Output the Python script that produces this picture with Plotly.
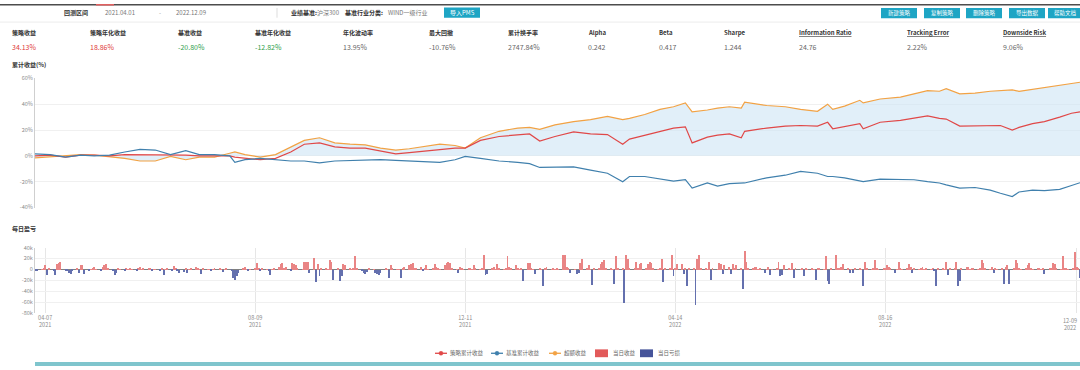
import plotly.graph_objects as go
import pandas as pd

W, H = 1080, 370

# ---------------- data ----------------
line_dates = [
    "2021-04-01", "2021-04-10", "2021-04-19", "2021-04-28", "2021-05-06", "2021-05-15",
    "2021-05-24", "2021-06-02", "2021-06-11", "2021-06-20", "2021-06-29", "2021-07-07",
    "2021-07-16", "2021-07-25", "2021-07-28", "2021-08-03", "2021-08-12", "2021-08-21",
    "2021-08-30", "2021-09-07", "2021-09-16", "2021-09-25", "2021-10-04", "2021-10-13",
    "2021-10-22", "2021-10-31", "2021-11-08", "2021-11-17", "2021-11-26", "2021-12-05",
    "2021-12-11", "2021-12-20", "2021-12-31", "2022-01-11", "2022-01-18", "2022-01-24",
    "2022-02-02", "2022-02-13", "2022-02-23", "2022-03-05", "2022-03-14", "2022-03-18",
    "2022-03-27", "2022-04-05", "2022-04-13", "2022-04-20", "2022-04-24", "2022-05-03",
    "2022-05-09", "2022-05-16", "2022-05-23", "2022-05-25", "2022-06-07", "2022-06-18",
    "2022-06-27", "2022-07-07", "2022-07-13", "2022-07-16", "2022-07-23", "2022-08-01",
    "2022-08-03", "2022-08-13", "2022-08-25", "2022-09-02", "2022-09-10", "2022-09-17",
    "2022-09-21", "2022-09-29", "2022-10-08", "2022-10-17", "2022-10-23", "2022-10-30",
    "2022-11-03", "2022-11-11", "2022-11-18", "2022-11-27", "2022-12-04", "2022-12-09",
]
strategy_cum = [
    0, 0.5, -1, 0.5, 0.5, 0, 1, 1, 0.5, 0.5, 0.5, 0, 0, 0, -1, -2, -3, -2,
    3, 9, 10, 7, 6, 6, 4, 1.5, 2.5, 3.5, 5, 6, 6, 12, 15, 16.5, 17, 11.5,
    15, 18.5, 17, 16.5, 9, 13, 16, 19, 21.5, 22.5, 10, 14.5, 16, 17, 14, 19,
    21.5, 23, 23.5, 23, 26, 21, 22.5, 25, 21, 26, 27.5, 29.5, 31, 29, 28.5, 23,
    23, 23.5, 23.5, 20, 22, 25, 26.5, 30, 33, 34.13,
]
benchmark_cum = [
    1.5, 1, -1, 0.5, 0, 0.5, 3, 5, 4.5, 1, 4, 1, 1, 0, -5, -3, -2, -3,
    -4, -4, -5.5, -4, -3.5, -3, -3, -3.5, -4, -4.5, -5, -3, -0.5, -2, -4, -5, -6, -9,
    -9, -8.5, -11, -13.5, -20, -16, -16, -18, -19.5, -18.5, -25, -21, -23.5, -21.5, -21, -21,
    -17, -15, -12, -13.5, -16, -16, -17, -19.5, -20, -18, -18, -18.5, -20, -21, -22.5, -25,
    -24.5, -26.5, -29, -31.5, -28, -26.5, -27, -26, -23, -20.8,
]
excess_cum = [
    -1.5, -0.5, 0, 1, 0.5, -0.5, -2, -4, -4, -0.5, -3, -1, -1, 2, 3, 1, -1, 1,
    7, 12, 14, 10, 9, 8.5, 6, 4.5, 5.5, 7, 9, 8, 6, 14, 19, 21.5, 22, 20.5,
    24, 26.5, 28, 30.5, 28, 29, 32, 36, 38, 41, 34, 35.5, 37, 38, 37, 41.5,
    39, 38, 36, 34.5, 40, 36, 38.5, 43, 41, 44, 45.5, 48, 50.5, 50, 52, 48,
    48.5, 50, 50.5, 51, 50, 51.5, 53, 54.5, 56, 57,
]

# daily P&L in thousands, one value per business day from 2021-04-01 to 2022-12-09
daily_pnl_k = [
    -1, -3, 1, 2, 9, -10, 2, -1, -10, 10, 12, 15, -2, -3, -5, -8, -3, 2, -5, 8,
    8, -8, -2, 1, 2, 5, 1, -1, 5, 8, 10, 2, -3, -10, -5, 3, 1, -2, 3, 1,
    2, 1, -1, 2, 5, 1, 2, 2, 2, -1, 1, 1, -1, 2, -10, 1, 2, -1, 7, 2,
    -2, -5, -4, 2, -6, 1, 2, 5, 2, 1, -8, 2, 1, 1, -2, 1, 2, 3, 1, -4,
    1, 2, -3, -15, -18, -12, -5, 2, 5, 1, -2, 1, 2, 12, 3, -1, 3, 1, -2, -10,
    1, 2, 5, 10, 12, 3, 5, -2, 12, 10, 8, 2, 1, 15, 15, 15, -5, 22, -22, 10,
    -12, 2, 3, 1, 18, 15, -18, 2, -20, -12, 10, 8, 2, 1, 2, 25, 2, -3, -5, -8,
    -4, 3, 1, -5, -8, -10, -5, 2, 1, -15, 8, 2, 1, 1, -15, 3, 5, 8, 10, 12,
    3, 2, 5, -3, 2, 8, 1, 2, 10, 5, 2, 1, 8, 12, 15, 12, 2, 1, -5, 5,
    2, 1, 2, 3, 1, 8, 2, 1, 3, 28, -10, -8, 2, 5, 1, 10, 2, 1, 3, 25,
    5, 2, 8, 3, 1, 2, -20, 12, 12, 2, 1, -8, 2, 1, -30, 2, 5, 1, 2, 1,
    2, 1, 28, 28, 5, 2, -5, 1, -8, -5, 12, 20, 2, 8, 1, -28, 2, 3, 10, 15,
    18, 2, 3, 1, -25, 25, 2, 3, -60, 28, 20, 3, 2, 15, 2, 10, 12, 3, 10, 15,
    12, 2, 1, 3, 20, -22, 2, 3, 28, -12, 2, 10, 10, -8, 2, -30, 2, 3, -65, 20,
    28, 3, 2, 1, 15, -18, 2, 1, 12, 10, -8, 8, 5, -8, 10, 2, 8, 3, -35, 35,
    15, 2, 3, 5, 5, 1, 2, -5, 1, 5, -10, 1, 2, 15, -12, -10, 8, 2, 1, 12,
    -15, 2, 1, 2, -12, 3, 1, 2, 1, -18, 2, 3, 1, 25, -20, -25, 2, 28, 3, 2,
    5, 10, 2, -5, 1, -5, 2, 3, 1, -30, 15, 2, 1, 3, 18, 2, 1, 2, 3, 8,
    5, 2, -5, 1, 15, 2, 1, 3, 10, 5, -5, 2, 1, 3, 5, 1, 2, 1, 3, -2,
    -30, 2, 3, 1, 15, -10, 2, 3, 15, -30, -20, 2, 5, 5, 1, 2, 3, 1, 2, 18,
    12, 2, 1, 5, -5, 2, 1, 3, -25, 5, 8, -25, 2, 18, 12, 2, 1, 3, 8, 12,
    2, 1, 2, 3, 1, 2, -8, 2, 3, 12, 10, 2, 1, 25, 2, 3, 1, 2, 32, 5,
    2, -15,
]

pct_ticks = [60, 40, 20, 0, -20, -40]
pct_labels = ["60%", "40%", "20%", "0%", "-20%", "-40%"]
pnl_ticks = [40, 20, 0, -20, -40, -60, -80]
pnl_labels = ["40k", "20k", "0", "-20k", "-40k", "-60k", "-80k"]
date_ticks = ["2021-04-07", "2021-08-09", "2021-12-11", "2022-04-14", "2022-08-16", "2022-12-07"]
date_labels = ["04-07<br>2021", "08-09<br>2021", "12-11<br>2021", "04-14<br>2022", "08-16<br>2022", ""]
end_date_label = "12-09<br>2022"

metric_names = ["策略收益", "策略年化收益", "基准收益", "基准年化收益", "年化波动率", "最大回撤", "累计换手率",
                "Alpha", "Beta", "Sharpe", "Information Ratio", "Tracking Error", "Downside Risk"]
metric_values = ["34.13%", "18.86%", "-20.80%", "-12.82%", "13.95%", "-10.76%", "2747.84%",
                 "0.242", "0.417", "1.244", "24.76", "2.22%", "9.06%"]
top_buttons = ["新建策略", "复制策略", "删除策略", "导出数据", "帮助文档"]
legend_names = ["策略累计收益", "基准累计收益", "超额收益", "当日收益", "当日亏损"]

# ---------------- styling ----------------
FONT = "Noto Sans CJK SC, Roboto, sans-serif"
RED = "#e04848"
BLUE = "#4080ad"
ORANGE = "#f2a244"
BAR_RED = "#e25a5a"
BAR_BLUE = "#46549a"
TEAL = "#1ea5c4"


def px(x):
    return x / W


def py(y):
    return 1 - y / H


fig = go.Figure()

# top chart
fig.add_trace(go.Scatter(x=line_dates, y=excess_cum, name=legend_names[2], mode="lines",
                         line=dict(color=ORANGE, width=1.2), fill="tozeroy",
                         fillcolor="rgba(205,228,245,0.6)", xaxis="x", yaxis="y", showlegend=False))
fig.add_trace(go.Scatter(x=line_dates, y=strategy_cum, name=legend_names[0], mode="lines",
                         line=dict(color=RED, width=1.2), xaxis="x", yaxis="y", showlegend=False))
fig.add_trace(go.Scatter(x=line_dates, y=benchmark_cum, name=legend_names[1], mode="lines",
                         line=dict(color=BLUE, width=1.2), xaxis="x", yaxis="y", showlegend=False))

# bottom chart
bar_dates = pd.bdate_range("2021-04-01", "2022-12-09")
n = min(len(bar_dates), len(daily_pnl_k))
bar_dates = bar_dates[:n]
vals = daily_pnl_k[:n]
gain = [v if v > 0 else None for v in vals]
loss = [v if v < 0 else None for v in vals]
DAY_MS = 86400000
fig.add_trace(go.Bar(x=bar_dates, y=gain, name=legend_names[3],
                     marker=dict(color="#e98585", line_width=0),
                     width=DAY_MS * 0.55, xaxis="x2", yaxis="y2", showlegend=False))
fig.add_trace(go.Bar(x=bar_dates, y=loss, name=legend_names[4],
                     marker=dict(color="#6470ae", line_width=0),
                     width=DAY_MS * 0.55, xaxis="x2", yaxis="y2", showlegend=False))

xdom = [px(35), 1.0]
xrange = ["2021-04-01", "2022-12-09"]
tickfont = dict(family=FONT, size=5.5, color="#8a8a8a")

fig.update_layout(
    width=W, height=H, margin=dict(l=0, r=0, t=0, b=0),
    paper_bgcolor="white", plot_bgcolor="white",
    barmode="overlay", bargap=0, showlegend=False,
    font=dict(family=FONT),
    xaxis=dict(domain=xdom, range=xrange, type="date", anchor="y", showticklabels=False,
               showgrid=False, zeroline=False, showline=False, ticks=""),
    yaxis=dict(domain=[py(208), py(76)], range=[-40, 60], anchor="x", tickvals=pct_ticks,
               ticktext=pct_labels, tickfont=tickfont, showgrid=True, gridcolor="#f0f0f0",
               gridwidth=1, zeroline=False, showline=True, linecolor="#cfcfcf", linewidth=1, ticks=""),
    xaxis2=dict(domain=xdom, range=xrange, type="date", anchor="y2", tickvals=date_ticks,
                ticktext=date_labels, tickfont=tickfont, showgrid=True, gridcolor="#e6e6e6",
                zeroline=False, showline=False, ticks=""),
    yaxis2=dict(domain=[py(316), py(249)], range=[-80, 40], anchor="x2", tickvals=pnl_ticks,
                ticktext=pnl_labels, tickfont=tickfont, showgrid=True, gridcolor="#f0f0f0",
                zeroline=True, zerolinecolor="#808080", zerolinewidth=1,
                showline=True, linecolor="#cfcfcf", linewidth=1, ticks=""),
)

shapes = []
annotations = []


def text(x, y, s, size=6, color="#333", anchor="left", bold=False):
    annotations.append(dict(x=px(x), y=py(y), xref="paper", yref="paper", text=(f"<b>{s}</b>" if bold else s),
                            showarrow=False, xanchor=anchor, yanchor="middle",
                            font=dict(family=FONT, size=size, color=color)))


def rect(x0, y0, x1, y1, color, line=None):
    shapes.append(dict(type="rect", xref="paper", yref="paper", x0=px(x0), x1=px(x1), y0=py(y1), y1=py(y0),
                       fillcolor=color, line=dict(width=0) if line is None else line, layer="above"))


def hline(x0, x1, y, color, width=1):
    shapes.append(dict(type="line", xref="paper", yref="paper", x0=px(x0), x1=px(x1), y0=py(y), y1=py(y),
                       line=dict(color=color, width=width)))


# header bars
rect(0, 0, 1080, 1.6, "#4d4d4d")
rect(96, 0, 114, 1.6, "#e06060")
hline(0, 1080, 18.5, "#ececec", 1)
shapes.append(dict(type="line", xref="paper", yref="paper", x0=px(277), x1=px(277), y0=py(4), y1=py(14),
                   line=dict(color="#dddddd", width=1)))

text(62, 9, "回测区间", 6, "#333", bold=True)
text(103, 9, "2021.04.01", 6, "#777")
text(157, 9, "-", 6, "#999")
text(174, 9, "2022.12.09", 6, "#777")
text(289, 9, "业绩基准:", 6, "#333", bold=True)
text(315, 9, "沪深300", 6, "#777")
text(343, 9, "基准行业分类:", 6, "#333", bold=True)
text(386, 9, "WIND一级行业", 6, "#777")
rect(444, 3.5, 480, 14, TEAL)
text(462, 9, "导入PMS", 6, "white", anchor="center")

btn_x = [881, 924, 966, 1009, 1048]
for i, (bx, name) in enumerate(zip(btn_x, top_buttons)):
    rect(bx, 4, bx + 36, 14.5, TEAL)
    if i < 4:
        text(bx + 18, 9.3, name, 5.5, "white", anchor="center")
    else:
        text(bx + 4, 9.3, name, 5.5, "white", anchor="left")

metric_x = [10, 88, 176, 253, 341, 427, 506, 586, 657, 722, 797, 905, 1001]
for i, (mx, name, val) in enumerate(zip(metric_x, metric_names, metric_values)):
    label = f"<u>{name}</u>" if i >= 10 else name
    text(mx, 29.5, label, 6, "#333", bold=True)
    if i < 2:
        c = "#e03b3b"
    elif i < 4:
        c = "#2e9e4a"
    else:
        c = "#666666"
    text(mx, 43.5, val, 7, c)

# chart titles
text(10, 62, "累计收益(%)", 6, "#333", bold=True)
text(10, 229, "每日盈亏", 6, "#333", bold=True)

# end-of-axis date label (kept inside the page)
annotations.append(dict(x=px(1079), y=py(318), xref="paper", yref="paper", text=end_date_label,
                        showarrow=False, xanchor="right", yanchor="top", align="center",
                        font=dict(family=FONT, size=5.5, color="#8a8a8a")))

# custom legend
LY = 357
line_items = [(441, RED), (497, BLUE), (555, ORANGE)]
for (cx, col), name in zip(line_items, legend_names[:3]):
    hline(cx - 6, cx + 6, LY, col, 1.3)
    shapes.append(dict(type="circle", xref="paper", yref="paper", x0=px(cx - 2), x1=px(cx + 2),
                       y0=py(LY + 2), y1=py(LY - 2), fillcolor=col, line=dict(color=col, width=0.5)))
    text(cx + 7, LY, name, 5.5, "#666")
rect(595, LY - 4, 608, LY + 4, BAR_RED)
text(611, LY, legend_names[3], 5.5, "#666")
rect(640, LY - 4, 653, LY + 4, BAR_BLUE)
text(656, LY, legend_names[4], 5.5, "#666")

# bottom teal strip
rect(35, 366, 1080, 370, "#7fc5cd")

fig.update_layout(shapes=shapes, annotations=annotations)
fig.write_html("out.html", config={"displayModeBar": False},
               post_script="document.body.style.margin='0';document.body.style.overflow='hidden';")
